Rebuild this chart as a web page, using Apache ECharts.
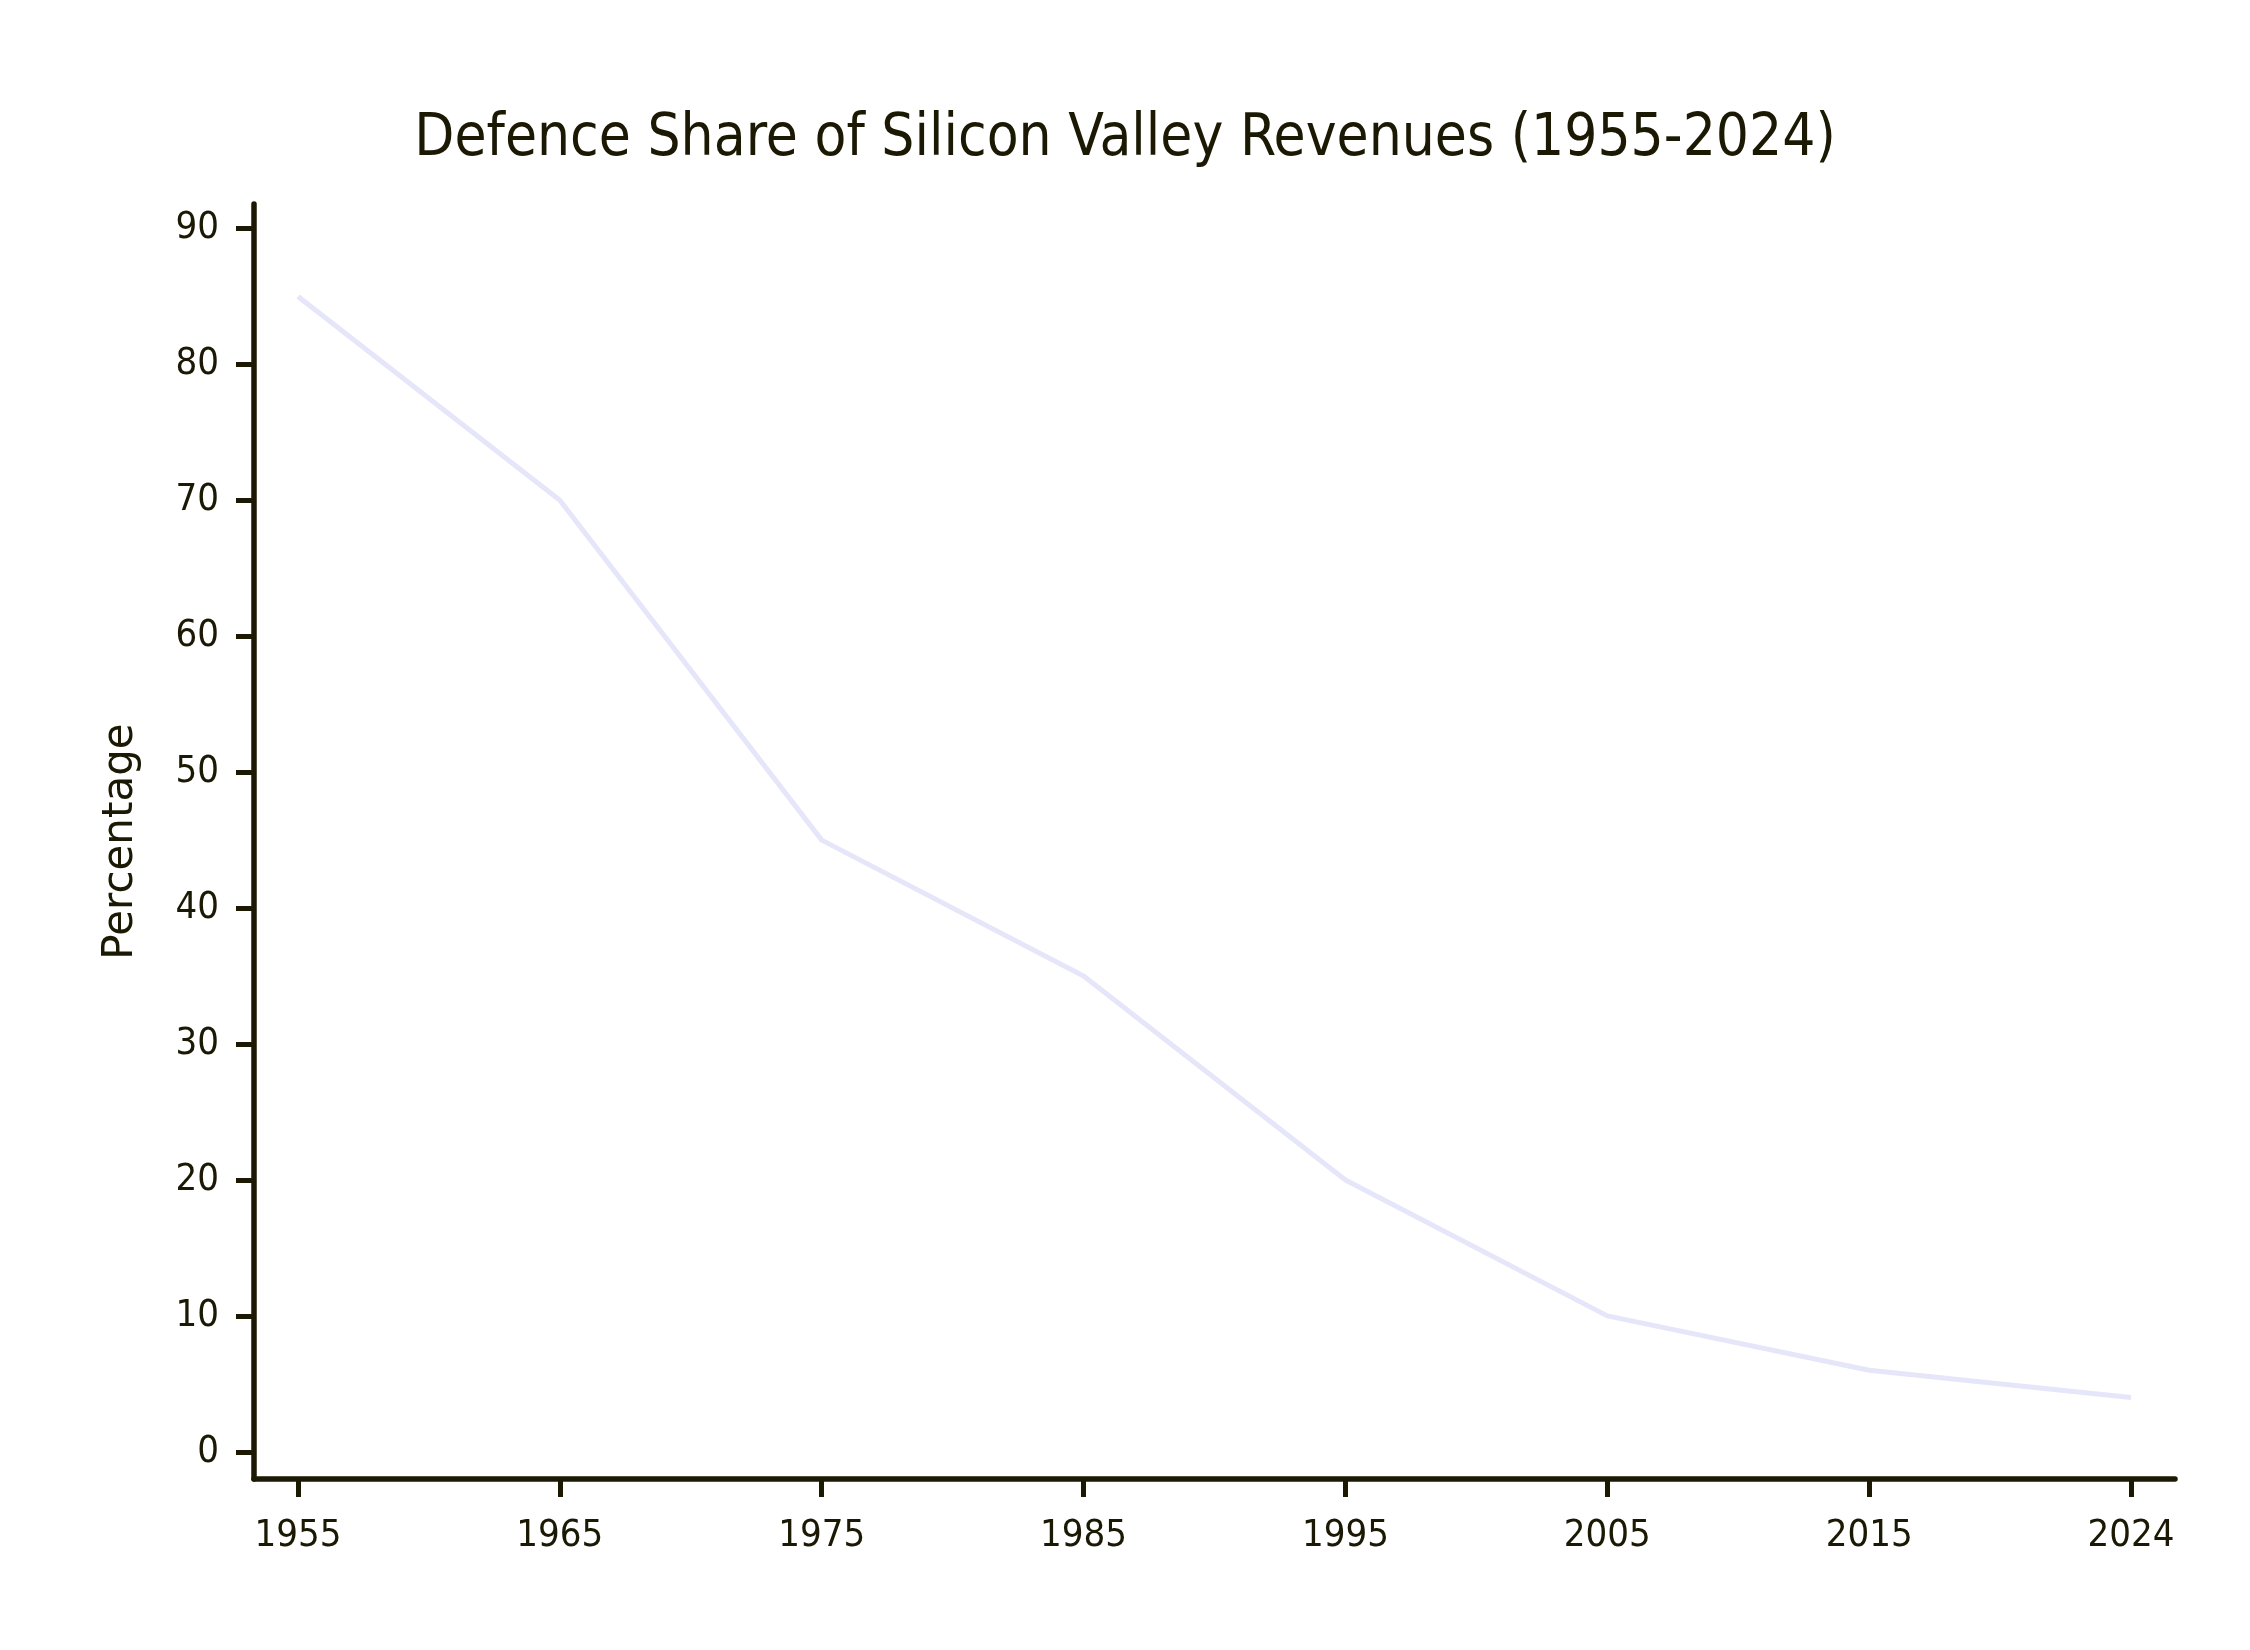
<!DOCTYPE html>
<html>
<head>
<meta charset="utf-8">
<title>Defence Share of Silicon Valley Revenues</title>
<script src="https://cdn.jsdelivr.net/npm/echarts@6/dist/echarts.min.js"></script>
<style>
	html, body { margin: 0; padding: 0; background: #ffffff; }
	#main { width: 2250px; height: 1650px; }
</style>
</head>
<body>
<div id="main"></div>
<script>
	// 数据
	var years = ['1955', '1965', '1975', '1985', '1995', '2005', '2015', '2024'];
	var defenceShare = [85, 70, 45, 35, 20, 10, 6, 4];
	var yTicks = [0, 10, 20, 30, 40, 50, 60, 70, 80, 90];

	var inkColor = '#1b1904';

	// x 轴用序号，标签取 years
	var xIndex = [];
	for (var i = 0; i < years.length; i++) {
		xIndex.push(i);
	}

	var myChart = echarts.init(document.getElementById('main'));
	var option = {
		backgroundColor: '#ffffff',
		animation: false,
		title: {
			text: 'Defence Share of Silicon Valley Revenues (1955-2024)',
			left: 'center',
			top: 106,
			textStyle: {
				fontFamily: 'DejaVu Sans Condensed',
				fontSize: 58,
				fontWeight: 'normal',
				color: inkColor
			}
		},
		grid: {
			left: 254,
			right: 75,
			top: 204,
			bottom: 171,
			containLabel: false
		},
		xAxis: {
			type: 'value',
			min: -0.168,
			max: 7.168,
			splitLine: { show: false },
			axisLine: {
				show: true,
				onZero: false,
				lineStyle: { color: inkColor, width: 5.5 }
			},
			axisTick: {
				show: true,
				length: 18,
				customValues: xIndex,
				lineStyle: { color: inkColor, width: 5 }
			},
			axisLabel: {
				customValues: xIndex,
				margin: 38,
				fontFamily: 'DejaVu Sans Condensed',
				fontSize: 38,
				color: inkColor,
				formatter: function(v) {
					return years[Math.round(v)];
				}
			}
		},
		yAxis: {
			type: 'value',
			min: -2,
			max: 91.8,
			name: 'Percentage',
			nameLocation: 'middle',
			nameGap: 112,
			nameTextStyle: {
				fontFamily: 'DejaVu Sans',
				fontSize: 42,
				color: inkColor
			},
			splitLine: { show: false },
			axisLine: {
				show: true,
				onZero: false,
				lineStyle: { color: inkColor, width: 5.5 }
			},
			axisTick: {
				show: true,
				length: 18,
				customValues: yTicks,
				lineStyle: { color: inkColor, width: 5 }
			},
			axisLabel: {
				customValues: yTicks,
				margin: 35,
				fontFamily: 'DejaVu Sans Condensed',
				fontSize: 38,
				color: inkColor
			}
		},
		series: [{
			name: 'Defence share',
			type: 'line',
			showSymbol: false,
			symbol: 'none',
			lineStyle: { color: '#e6e6fa', width: 5 },
			data: (function() {
				var arr = [];
				for (var j = 0; j < years.length; j++) {
					arr.push([j, defenceShare[j]]);
				}
				return arr;
			})()
		}]
	};
	myChart.setOption(option, true);
</script>
</body>
</html>
